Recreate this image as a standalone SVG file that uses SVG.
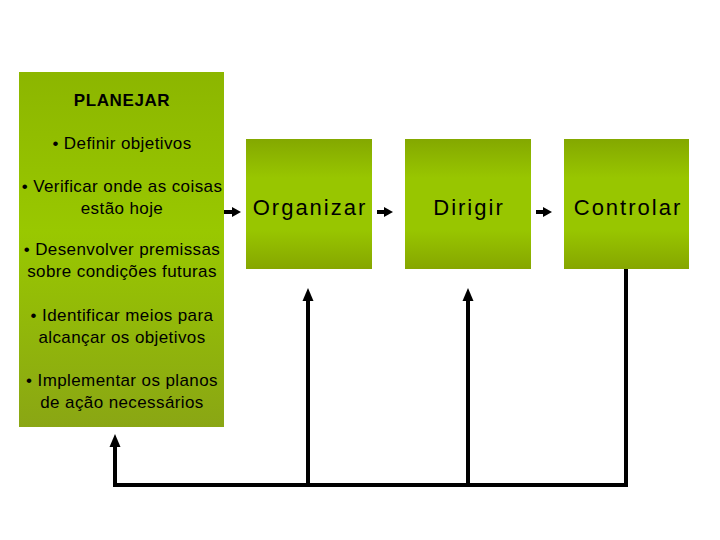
<svg xmlns="http://www.w3.org/2000/svg" width="720" height="540" viewBox="0 0 720 540">
  <defs>
    <linearGradient id="gTall" x1="0" y1="0" x2="0" y2="1">
      <stop offset="0" stop-color="#8cb600"/>
      <stop offset="0.45" stop-color="#99c800"/>
      <stop offset="1" stop-color="#8aa614"/>
    </linearGradient>
    <linearGradient id="gBox" x1="0" y1="0" x2="0" y2="1">
      <stop offset="0" stop-color="#84a800"/>
      <stop offset="0.3" stop-color="#98c600"/>
      <stop offset="0.7" stop-color="#98c600"/>
      <stop offset="1" stop-color="#86a600"/>
    </linearGradient>
    <marker id="headV" markerUnits="userSpaceOnUse" markerWidth="14" markerHeight="14" viewBox="0 0 14 14" refX="3" refY="7" orient="auto">
      <path d="M0,1.5 L13,7 L0,12.5 Z" fill="#000"/>
    </marker>
    <marker id="headH" markerUnits="userSpaceOnUse" markerWidth="10" markerHeight="12" viewBox="0 0 10 12" refX="2" refY="6" orient="auto">
      <path d="M0,1 L9,6 L0,11 Z" fill="#000"/>
    </marker>
  </defs>
  <style>
    .box { stroke: none; }
    .small { font-family: "Liberation Sans", Arial, sans-serif; font-size: 17px; letter-spacing: 0.4px; fill: #000; text-anchor: middle; }
    .title { font-family: "Liberation Sans", Arial, sans-serif; font-size: 17px; font-weight: bold; letter-spacing: 0.6px; fill: #000; text-anchor: middle; }
    .big { font-family: "Liberation Sans", Arial, sans-serif; font-size: 22px; letter-spacing: 2px; fill: #000; text-anchor: middle; }
    .conn { stroke: #000; stroke-width: 4; fill: none; }
  </style>
  <rect width="720" height="540" fill="#fff"/>

  <g id="planejar">
    <rect class="box" x="19" y="72" width="205" height="355" fill="url(#gTall)"/>
    <text class="title" x="122" y="106">PLANEJAR</text>
    <text class="small" x="122" y="149">• Definir objetivos</text>
    <text class="small" x="122" y="192">• Verificar onde as coisas</text>
    <text class="small" x="122" y="214">estão hoje</text>
    <text class="small" x="122" y="255">• Desenvolver premissas</text>
    <text class="small" x="122" y="277">sobre condições futuras</text>
    <text class="small" x="122" y="321">• Identificar meios para</text>
    <text class="small" x="122" y="343">alcançar os objetivos</text>
    <text class="small" x="122" y="386">• Implementar os planos</text>
    <text class="small" x="122" y="408">de ação necessários</text>
  </g>

  <g id="organizar">
    <rect class="box" x="246" y="139" width="126" height="130" fill="url(#gBox)"/>
    <text class="big" x="310" y="215">Organizar</text>
  </g>

  <g id="dirigir">
    <rect class="box" x="405" y="139" width="126" height="130" fill="url(#gBox)"/>
    <text class="big" x="469" y="215">Dirigir</text>
  </g>

  <g id="controlar">
    <rect class="box" x="564" y="139" width="125" height="130" fill="url(#gBox)"/>
    <text class="big" x="628" y="215">Controlar</text>
  </g>

  <g id="connectors">
    <line class="conn" x1="224" y1="212" x2="234" y2="212" marker-end="url(#headH)"/>
    <line class="conn" x1="377" y1="212" x2="386" y2="212" marker-end="url(#headH)"/>
    <line class="conn" x1="536" y1="212" x2="545" y2="212" marker-end="url(#headH)"/>
    <polyline class="conn" points="626,269 626,485 115,485 115,444" stroke-linejoin="miter" marker-end="url(#headV)"/>
    <line class="conn" x1="308" y1="485" x2="308" y2="298" marker-end="url(#headV)"/>
    <line class="conn" x1="468" y1="485" x2="468" y2="298" marker-end="url(#headV)"/>
  </g>
</svg>
